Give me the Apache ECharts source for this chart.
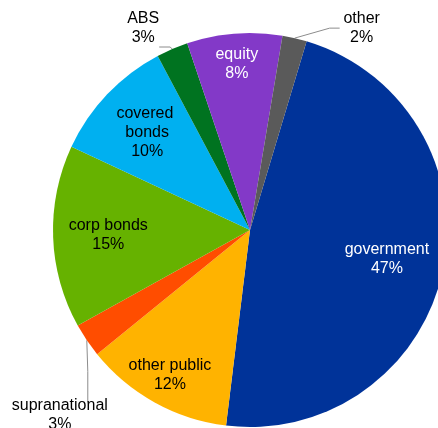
<!DOCTYPE html>
<html>
<head>
<meta charset="utf-8">
<script src="https://cdn.jsdelivr.net/npm/echarts@6/dist/echarts.min.js"></script>
<style>html,body{margin:0;padding:0;background:#fff}#c{width:438px;height:428px}</style>
</head>
<body>
<div id="c"></div>
<script>
const categories = ['government', 'other public', 'supranational', 'corp bonds', 'covered bonds', 'ABS', 'equity', 'other'];
const shares = [47.3, 12.2, 2.8, 15.0, 10.3, 2.6, 7.8, 2.0];
const colors = ['#003399', '#FFB300', '#FF4D00', '#66B200', '#00B0F0', '#007320', '#8339C8', '#5A5A5A'];
const textColors = ['#fff', '#000', '#000', '#000', '#000', '#000', '#fff', '#000'];
const outside = [false, false, true, false, false, true, false, true];
const labelRadius = [0.71, 0.84, 1, 0.72, 0.72, 1, 0.845, 1];

const CX = 250, CY = 230, R = 197;
const START = 73.3; // ECharts startAngle (deg, ccw from +x)

const total = shares.reduce((a, b) => a + b, 0);
const midAngles = [];
{
  let acc = 90 - START; // clockwise from top
  shares.forEach(v => {
    const span = v / total * 360;
    midAngles.push(acc + span / 2);
    acc += span;
  });
}
function polar(theta, r) {
  const t = theta * Math.PI / 180;
  return [CX + r * Math.sin(t), CY - r * Math.cos(t)];
}

const data = categories.map((name, i) => ({
  name: name,
  value: shares[i],
  itemStyle: { color: colors[i] },
  label: {
    color: textColors[i],
    position: outside[i] ? 'outside' : 'inside',
    width: outside[i] ? 140 : 90
  },
  labelLine: { show: outside[i] }
}));

const chart = echarts.init(document.getElementById('c'), null, { renderer: 'canvas' });
chart.setOption({
  animation: false,
  series: [{
    type: 'pie',
    center: [CX, CY],
    radius: R,
    startAngle: START,
    clockwise: true,
    avoidLabelOverlap: false,
    percentPrecision: 0,
    data: data,
    itemStyle: { borderWidth: 0 },
    label: {
      show: true,
      formatter: '{b}\n{d}%',
      fontFamily: 'Liberation Sans, Arial, sans-serif',
      fontSize: 16,
      lineHeight: 19,
      align: 'center',
      overflow: 'break'
    },
    labelLine: {
      lineStyle: { color: '#8c8c8c', width: 1 },
      length: 10, length2: 10
    },
    labelLayout: function (params) {
      const i = params.dataIndex;
      const th = midAngles[i];
      if (!outside[i]) {
        const p = polar(th, R * labelRadius[i]);
        return { x: p[0], y: p[1], align: 'center', verticalAlign: 'middle' };
      }
      const e = polar(th, R);
      const name = categories[i];
      if (name === 'ABS') {
        return {
          x: e[0] - 29, y: e[1] - 21, align: 'center', verticalAlign: 'middle',
          labelLinePoints: [[e[0], e[1]], [e[0] - 2, e[1] - 2], [e[0] - 13, e[1] - 2]]
        };
      }
      if (name === 'other') {
        return {
          x: e[0] + 67, y: e[1] - 10, align: 'center', verticalAlign: 'middle',
          labelLinePoints: [[e[0], e[1]], [e[0] + 35, e[1] - 10], [e[0] + 45, e[1] - 10]]
        };
      }
      return {
        x: e[0] - 27, y: e[1] + 75, align: 'center', verticalAlign: 'middle',
        labelLinePoints: [[e[0], e[1]], [e[0] + 1, e[1] + 31], [e[0] + 1, e[1] + 62]]
      };
    }
  }]
});
</script>
</body>
</html>
